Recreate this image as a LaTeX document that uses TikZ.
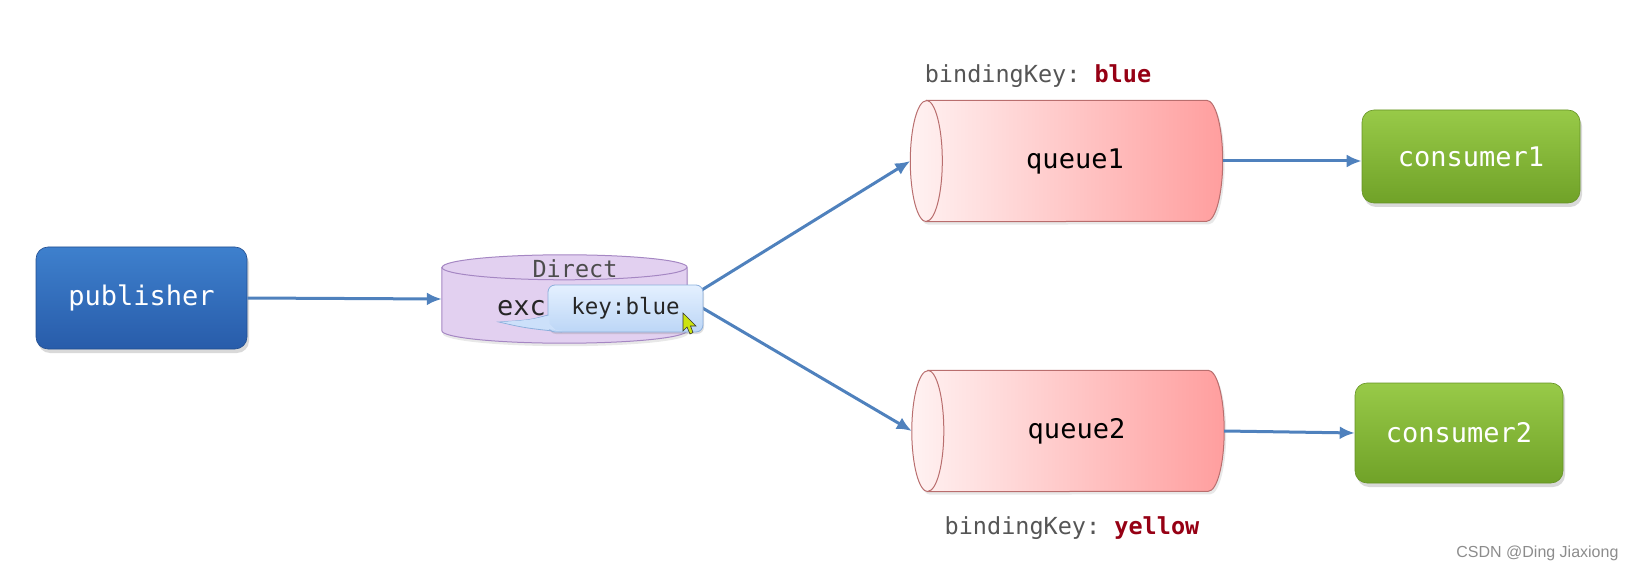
\documentclass[tikz,border=0pt]{standalone}
\usepackage{fontspec}
\setmonofont{DejaVu Sans Mono}
\setsansfont{Liberation Sans}
\usetikzlibrary{positioning,shadows,arrows.meta,calc,backgrounds}

\definecolor{flowblue}{RGB}{79,129,189}
\definecolor{pubtop}{RGB}{62,128,205}
\definecolor{pubbot}{RGB}{40,92,170}
\definecolor{contop}{RGB}{152,202,72}
\definecolor{conbot}{RGB}{112,162,40}
\definecolor{queueleft}{RGB}{255,242,242}
\definecolor{queueright}{RGB}{255,158,158}
\definecolor{queueline}{RGB}{185,110,110}
\definecolor{exfill}{RGB}{226,208,240}
\definecolor{exline}{RGB}{165,135,195}
\definecolor{tiptop}{RGB}{228,240,255}
\definecolor{tipbot}{RGB}{188,214,246}
\definecolor{tipline}{RGB}{140,175,220}
\definecolor{keygray}{RGB}{85,85,85}
\definecolor{keyred}{RGB}{150,0,20}

\begin{document}
\begin{tikzpicture}[x=1pt,y=1pt,
    box/.style={rounded corners=12pt, text=white, line width=0.6pt,
      font=\ttfamily\fontsize{27}{30}\selectfont,
      drop shadow={opacity=0.3, shadow xshift=2pt, shadow yshift=-4pt}},
    pubbox/.style={box, top color=pubtop, bottom color=pubbot, draw=pubbot!85!black},
    conbox/.style={box, top color=contop, bottom color=conbot, draw=conbot!90!black},
    queuebox/.style={minimum width=312pt, minimum height=121pt, inner sep=0pt,
      font=\ttfamily\fontsize{27}{30}\selectfont},
    queuebody/.style={left color=queueleft, right color=queueright, draw=queueline, line width=1pt,
      drop shadow={opacity=0.18, shadow xshift=2pt, shadow yshift=-3pt}},
    exbody/.style={fill=exfill, draw=exline, line width=1pt,
      drop shadow={opacity=0.18, shadow xshift=1pt, shadow yshift=-3pt}},
    flow/.style={flowblue, line width=3pt, -{Latex[length=15pt,width=13pt]}},
    keylabel/.style={font=\ttfamily\fontsize{23.5}{26}\selectfont, text=keygray}
  ]
  \useasboundingbox (0,0) rectangle (1639,574);

  \node[pubbox, minimum width=211pt, minimum height=102pt] (publisher) at (141.5,276) {publisher};
  \node[minimum width=245pt, minimum height=88pt, inner sep=0pt] (exchange) at (564.5,275) {};
  \node[font=\ttfamily\fontsize{23.5}{26}\selectfont, text=black!70] (direct) at (575,305) {Direct};
  \node[anchor=west, inner sep=0pt, font=\ttfamily\fontsize{27}{30}\selectfont, text=black!85] (exc) at (497,266) {exc};

  \node[queuebox] (queue1) at (1066.5,413) {\hspace*{17pt}queue1};
  \node[queuebox] (queue2) at (1068,143) {\hspace*{17pt}queue2};
  \node[keylabel] (key1) at (1038,498) {bindingKey: \textcolor{keyred}{\textbf{blue}}};
  \node[keylabel] (key2) at (1072,46) {bindingKey: \textcolor{keyred}{\textbf{yellow}}};

  \node[conbox, minimum width=218pt, minimum height=93pt] (consumer1) at (1471,417.5) {consumer1};
  \node[conbox, minimum width=208pt, minimum height=100pt] (consumer2) at (1459,141) {consumer2};

  \begin{scope}[on background layer]
    \foreach \q in {queue1,queue2}{
      \path[queuebody] ($(\q.north west)+(16,0)$) -- ($(\q.north east)+(-16,0)$) arc(90:-90:16 and 60.5)
        -- ($(\q.south west)+(16,0)$) arc(270:90:16 and 60.5) -- cycle;% Draw queue body
      \draw[queueline, line width=1pt] ($(\q.north west)+(16,0)$) arc(90:-90:16 and 60.5);% Draw queue face
    }
    \path[exbody] ($(exchange.north west)+(0,-12.5)$) -- ($(exchange.south west)+(0,12.5)$) arc(180:360:122.5 and 12.5)
      -- ($(exchange.north east)+(0,-12.5)$) arc(0:180:122.5 and 12.5) -- cycle;% Draw exchange body
    \draw[exline, line width=1pt] ($(exchange.north west)+(0,-12.5)$) arc(180:360:122.5 and 12.5);% Draw exchange top
  \end{scope}

  \draw[flow] (publisher.east) -- (exchange.west);% Draw publish
  \draw[flow] (exchange.east) -- (queue1.west);% Draw route 1
  \draw[flow] (exchange.east) -- (queue2.west);% Draw route 2
  \draw[flow] (queue1.east) -- (queue1.east -| consumer1.west);% Draw consume 1
  \draw[flow] (queue2.east) -- (consumer2.west);% Draw consume 2

  % routing key bubble
  \draw[tipline, fill=tipbot!60!tiptop, line width=0.8pt] (548,259) .. controls (530,254) .. (499,252) .. controls (525,246) .. (562,242);
  \node[rounded corners=7pt, minimum width=155pt, minimum height=47pt, top color=tiptop, bottom color=tipbot,
    draw=tipline, line width=0.8pt, font=\ttfamily\fontsize{22.5}{25}\selectfont, text=black!85,
    drop shadow={opacity=0.25, shadow xshift=1pt, shadow yshift=-2pt}] (routekey) at (625.5,265.5) {key:blue};
  \fill[tipbot!60!tiptop] (549.5,258.5) .. controls (530,254) .. (501,252) .. controls (525,247) .. (562,243.5) -- (556,243.5) -- (549.5,250) -- cycle;
  \filldraw[fill=yellow!80!green, draw=black!80, line width=0.6pt] (683,261) -- (683,243) -- (687,247) -- (690,240) -- (693,241.5) -- (690.5,248) -- (696,248) -- cycle;% Draw pointer

  \node[anchor=east, font=\sffamily\fontsize{16}{18}\selectfont, text=black!45] (mark) at (1622,21) {CSDN @Ding Jiaxiong};
\end{tikzpicture}
\end{document}
